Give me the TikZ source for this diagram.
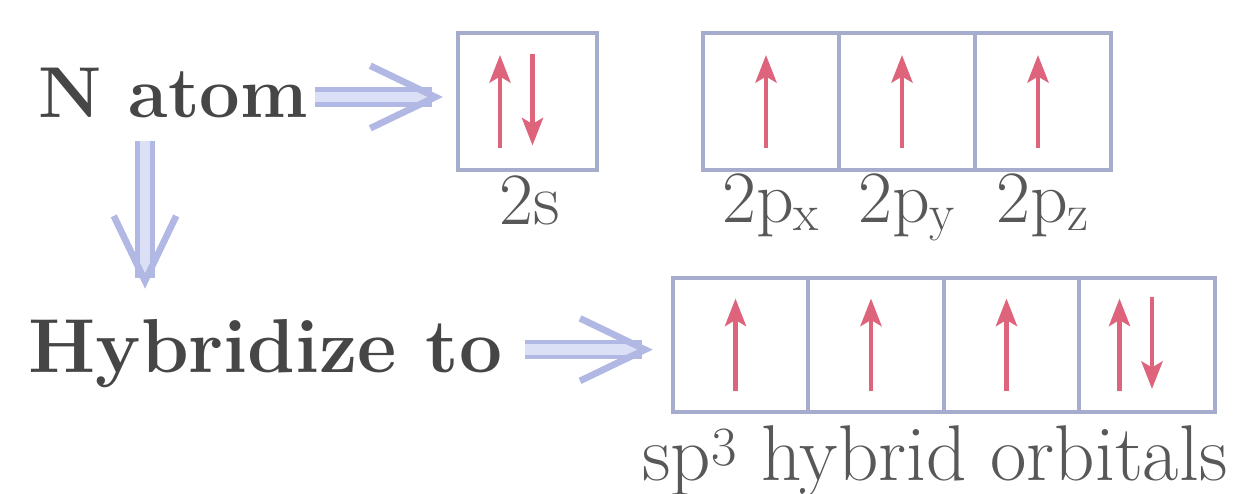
\documentclass[tikz,border=0pt]{standalone}
\usepackage{xcolor}
\usepackage{tikz}
\usetikzlibrary{arrows.meta,positioning,calc}
\definecolor{boxgray}{RGB}{166,172,204}
\definecolor{arrowlav}{RGB}{178,184,228}
\definecolor{arrowfill}{RGB}{220,224,246}
\definecolor{spinred}{RGB}{222,100,124}
\definecolor{textgray}{RGB}{70,70,70}
\definecolor{labelgray}{RGB}{88,88,88}

\begin{document}
\begin{tikzpicture}[
    orb/.style={rectangle, draw=boxgray, line width=2.3pt, minimum width=2.72cm, minimum height=2.74cm, inner sep=0pt, outer sep=0pt},
    head/.style={font=\fontsize{42}{50}\selectfont\bfseries, text=textgray, inner sep=0pt, anchor=base west},
    lbl/.style={font=\fontsize{42}{50}\selectfont, text=labelgray, inner sep=0pt, anchor=base},
    dbl/.style={draw=arrowlav, line width=2.6pt, double=arrowfill, double distance=6pt, -{Straight Barb[length=1.3cm, width=1.25cm, line width=3.8pt]}},
    spin/.style={draw=spinred, line width=2.8pt, -{Stealth[length=0.55cm, width=0.42cm, inset=0.12cm]}}
]
    \useasboundingbox (0,0) rectangle (24.9,-9.88);

    \node[head, font=\fontsize{41}{49}\selectfont\bfseries] (natom) at (0.76,-2.36) {N atom};
    \node[head, font=\fontsize{43.5}{52}\selectfont\bfseries] (hyb) at (0.56,-7.46) {Hybridize to};

    % ground state boxes
    \node[orb, minimum width=2.78cm] (s2) at (10.55,-2.03) {};
    \node[orb] (px) at (15.42,-2.03) {};
    \node[orb, right=0pt of px] (py) {};
    \node[orb, right=0pt of py] (pz) {};

    % hybrid boxes
    \node[orb, minimum width=2.71cm, minimum height=2.68cm] (h1) at (14.81,-6.9) {};
    \node[orb, minimum width=2.71cm, minimum height=2.68cm, right=0pt of h1] (h2) {};
    \node[orb, minimum width=2.71cm, minimum height=2.68cm, right=0pt of h2] (h3) {};
    \node[orb, minimum width=2.71cm, minimum height=2.68cm, right=0pt of h3] (h4) {};

    \node[lbl] (ls) at (10.6,-4.5) {2s};
    \node[lbl] (lx) at (px.center |- 0,-4.46) {2p\textsubscript{x}};
    \node[lbl] (ly) at (py.center |- 0,-4.46) {2p\textsubscript{y}};
    \node[lbl] (lz) at (pz.center |- 0,-4.46) {2p\textsubscript{z}};
    \node[lbl, font=\fontsize{45}{54}\selectfont] (lsp) at (18.7,-9.62) {sp\textsuperscript{3} hybrid orbitals};

    % electrons
    \foreach \c in {px,py,pz,h1,h2,h3}
        \draw[spin] ([xshift=-0.1cm, yshift=-0.93cm]\c.center) -- ([xshift=-0.1cm, yshift=0.93cm]\c.center);
    \foreach \c in {s2,h4} {
        \draw[spin] ([xshift=-0.55cm, yshift=-0.93cm]\c.center) -- ([xshift=-0.55cm, yshift=0.93cm]\c.center);
        \draw[spin] ([xshift=0.1cm, yshift=0.95cm]\c.center) -- ([xshift=0.1cm, yshift=-0.88cm]\c.center);
    }

    \draw[dbl, shorten <=0.14cm, shorten >=0.3cm] ([yshift=-0.07cm]natom.east) -- ([yshift=-0.07cm]natom.east -| s2.west);
    \draw[dbl, shorten <=0.44cm, shorten >=0.62cm] ([xshift=2.14cm]natom.south west) -- ([xshift=2.14cm]natom.south west |- hyb.north);
    \draw[dbl, shorten <=0.44cm, shorten >=0.4cm] ([yshift=0.09cm]hyb.east) -- ([yshift=0.09cm]hyb.east -| h1.west);
\end{tikzpicture}
\end{document}
